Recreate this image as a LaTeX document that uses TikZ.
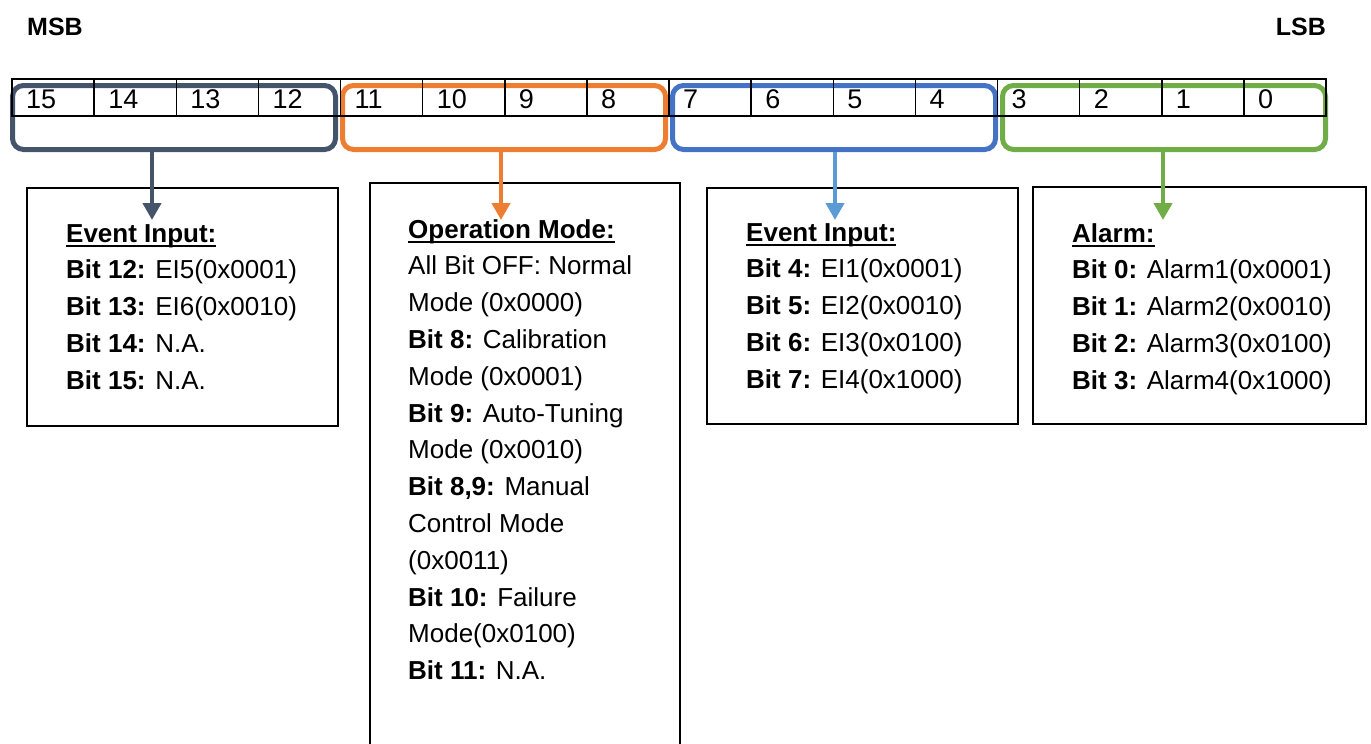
\documentclass[tikz,border=0pt]{standalone}
\usepackage{fontspec}
\setmainfont{Liberation Sans}
\usetikzlibrary{calc,arrows.meta}
\definecolor{slate}{HTML}{44546A}
\definecolor{orng}{HTML}{ED7D31}
\definecolor{blu}{HTML}{4472C4}
\definecolor{lblu}{HTML}{5B9BD5}
\definecolor{grn}{HTML}{70AD47}
\newcommand{\hdr}[1]{\setbox0\hbox{\bfseries #1}\rlap{\rule[-5pt]{\wd0}{2.4pt}}\box0}
\tikzset{
	bitnum/.style={anchor=base west,inner sep=0pt,font=\fontsize{27}{30}\selectfont},
	grp/.style={draw=#1,line width=5pt,rounded corners=11pt,anchor=north west,minimum width=323pt,minimum height=64pt,inner sep=0pt},
	infobox/.style={draw,line width=1.6pt,anchor=north west,inner sep=0pt},
	infotext/.style={anchor=north west,inner sep=0pt,align=left,font=\fontsize{26}{36.8}\selectfont},
	arr/.style={draw=#1,line width=4.5pt,-{Stealth[inset=0pt,length=17pt,width=18pt]}},
	sidelbl/.style={inner sep=0pt,font=\bfseries\fontsize{25}{30}\selectfont}
}
\begin{document}
\begin{tikzpicture}[x=1pt,y=-1pt]
			\clip (0,0) rectangle (1371,744);
			\node[sidelbl,anchor=base west] (msb) at (27,35) {MSB};
			\node[sidelbl,anchor=base east] (lsb) at (1326,35) {LSB};
			\foreach \x/\c/\nm in {10/slate/gA,340/orng/gB,670/blu/gC,1000/grn/gD}\node[grp=\c] (\nm) at (\x,83) {};
			\draw[line width=1.5pt] (12,79) rectangle (1326,116);
			\foreach \i in {1,...,15}\draw[line width=1.5pt] (12+\i*82.125,79)--(12+\i*82.125,116);
			\foreach \n[count=\i from 0] in {15,14,...,0}\node[bitnum] (n\n) at (12+\i*82.125+14,108) {\n};
			\node[infobox,minimum width=311pt,minimum height=238pt] (evhi) at (26,187) {};
			\node[infobox,minimum width=310pt,minimum height=590pt] (opmode) at (369,182) {};
			\node[infobox,minimum width=311pt,minimum height=236pt] (evlo) at (706,187) {};
			\node[infobox,minimum width=333pt,minimum height=237pt] (alarm) at (1032,186) {};
			\node[infotext] (evhitxt) at ($(evhi.north west)+(40,37)$) {\hdr{Event Input:}\\\textbf{Bit 12:} EI5(0x0001)\\\textbf{Bit 13:} EI6(0x0010)\\\textbf{Bit 14:} N.A.\\\textbf{Bit 15:} N.A.};
			\node[infotext] (opmodetxt) at ($(opmode.north west)+(39,37)$) {\hdr{Operation Mode:}\\All Bit OFF: Normal\\Mode (0x0000)\\\textbf{Bit 8:} Calibration\\Mode (0x0001)\\\textbf{Bit 9:} Auto-Tuning\\Mode (0x0010)\\\textbf{Bit 8,9:} Manual\\Control Mode\\(0x0011)\\\textbf{Bit 10:} Failure\\Mode(0x0100)\\\textbf{Bit 11:} N.A.};
			\node[infotext] (evlotxt) at ($(evlo.north west)+(40,36)$) {\hdr{Event Input:}\\\textbf{Bit 4:} EI1(0x0001)\\\textbf{Bit 5:} EI2(0x0010)\\\textbf{Bit 6:} EI3(0x0100)\\\textbf{Bit 7:} EI4(0x1000)};
			\node[infotext] (alarmtxt) at ($(alarm.north west)+(40,37)$) {\hdr{Alarm:}\\\textbf{Bit 0:} Alarm1(0x0001)\\\textbf{Bit 1:} Alarm2(0x0010)\\\textbf{Bit 2:} Alarm3(0x0100)\\\textbf{Bit 3:} Alarm4(0x1000)};
			\foreach \g/\x/\c in {gA/152/slate,gB/501/orng,gC/835/lblu,gD/1163/grn}{\coordinate (t\g) at (\x,220); \draw[arr=\c] (\g.south -| t\g)--(t\g);}
		\end{tikzpicture}
\end{document}
